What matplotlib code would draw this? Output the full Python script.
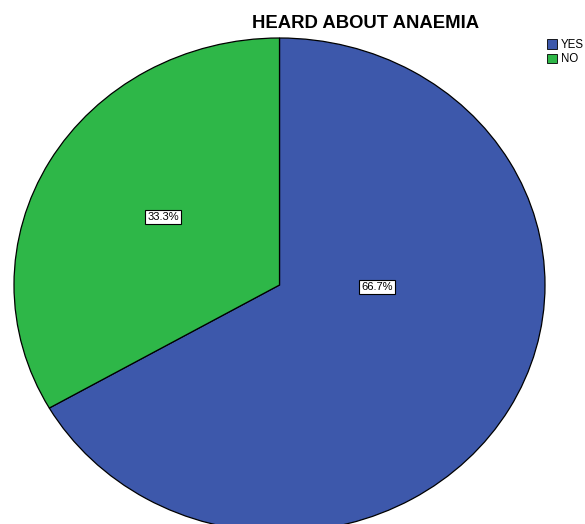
import matplotlib
matplotlib.use("Agg")
import matplotlib.pyplot as plt
from matplotlib.patches import Patch

categories = ["YES", "NO"]
values = [66.7, 33.3]
colors = ["#3d58ab", "#2eb748"]
title = "HEARD ABOUT ANAEMIA"

W, H = 585, 524
fig = plt.figure(figsize=(W / 100, H / 100), dpi=100)
fig.patch.set_facecolor("white")

# ellipse spans x 14..545, y 38..532 (pixels from top)
left, right, top, bottom = 14, 545, 38, 532
ax = fig.add_axes([left / W, (H - bottom) / H, (right - left) / W, (bottom - top) / H])
ax.set_aspect("auto")

wedges, texts, autotexts = ax.pie(
    values, colors=colors, startangle=90, counterclock=False,
    autopct="%1.1f%%",
    wedgeprops=dict(edgecolor="black", linewidth=0.9),
    textprops=dict(fontsize=8, family="Liberation Sans"),
)
for w in wedges:
    w.set_clip_on(False)
ax.set_xlim(-1, 1)
ax.set_ylim(-1, 1)
ax.set_aspect("auto")
ax.axis("off")

# label positions (normalized)
label_pos = [(0.366, -0.008), (-0.438, 0.275)]
for t, p in zip(autotexts, label_pos):
    t.set_position(p)
    t.set_bbox(dict(boxstyle="square,pad=0.2", facecolor="white", edgecolor="black", linewidth=0.8))
    t.set_color("black")

fig.text(366 / W, 1 - 24 / H, title, ha="center", va="center",
         fontsize=13.3, fontweight="bold", family="Liberation Sans")

handles = [Patch(facecolor=c, edgecolor="black", linewidth=0.6) for c in colors]
fig.legend(handles, categories, loc="upper left", bbox_to_anchor=(547 / W, 1 - 39 / H),
           frameon=False, prop=dict(family="Liberation Sans", size=8.3),
           handlelength=0.85, handleheight=0.85, handletextpad=0.35, labelspacing=0.2,
           borderpad=0, borderaxespad=0)

fig.savefig("out.png", dpi=100, facecolor="white")
